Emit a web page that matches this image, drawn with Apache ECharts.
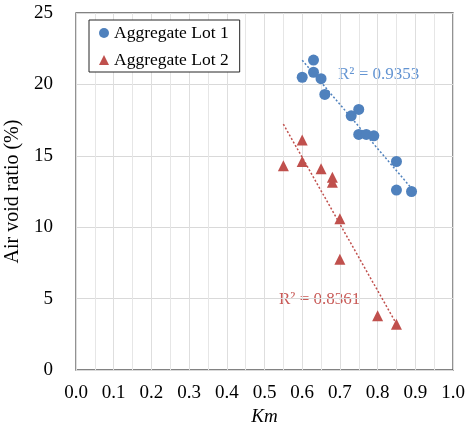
<!DOCTYPE html>
<html>
<head>
<meta charset="utf-8">
<script src="https://cdn.jsdelivr.net/npm/echarts@6/dist/echarts.min.js"></script>
<style>
  html, body { margin: 0; padding: 0; background: #fff; }
  #chart { width: 471px; height: 426px; }
</style>
</head>
<body>
<div id="chart"></div>
<script>
// values
const lot1Km = [0.60, 0.63, 0.63, 0.65, 0.66, 0.73, 0.75, 0.75, 0.77, 0.79, 0.85, 0.85, 0.89]
const lot1Void = [20.5, 21.7, 20.85, 20.4, 19.3, 17.8, 18.25, 16.5, 16.5, 16.4, 14.6, 12.6, 12.5]
const lot2Km = [0.55, 0.60, 0.60, 0.65, 0.68, 0.68, 0.70, 0.70, 0.80, 0.85]
const lot2Void = [14.3, 16.1, 14.6, 14.1, 13.5, 13.15, 10.6, 7.75, 3.8, 3.2]
const r2Labels = ['R² = 0.9353', 'R² = 0.8361']

const blue = '#4F81BD'
const red = '#C0504D'
const font = '"Liberation Serif", "Times New Roman", serif'

function pairs(xs, ys) {
  return xs.map((x, i) => [x, ys[i]])
}

// least squares line, drawn over the data's x range (like an Excel trendline)
function trend(xs, ys) {
  const n = xs.length
  const mx = xs.reduce((a, b) => a + b, 0) / n
  const my = ys.reduce((a, b) => a + b, 0) / n
  let sxy = 0, sxx = 0
  xs.forEach((x, i) => { sxy += (x - mx) * (ys[i] - my); sxx += (x - mx) * (x - mx) })
  const k = sxy / sxx
  const b = my - k * mx
  const x0 = Math.min(...xs), x1 = Math.max(...xs)
  return [[x0, k * x0 + b], [x1, k * x1 + b]]
}

const chart = echarts.init(document.getElementById('chart'))
chart.setOption({
  animation: false,
  textStyle: { fontFamily: font },
  grid: {
    left: 76, right: 18, top: 13, bottom: 56,
    outerBoundsMode: 'none',
    containLabel: false,
    show: true, borderColor: '#595959', borderWidth: 1.3
  },
  legend: {
    orient: 'vertical',
    left: 89,
    top: 20,
    padding: [4, 11, 3, 10],
    itemGap: 9,
    itemWidth: 10,
    itemHeight: 10,
    borderColor: '#262626',
    borderWidth: 1,
    backgroundColor: '#fff',
    textStyle: { fontFamily: font, fontSize: 17.5, lineHeight: 18, color: '#000' },
    data: [
      { name: 'Aggregate Lot 1', icon: 'circle' },
      { name: 'Aggregate Lot 2', icon: 'triangle' }
    ]
  },
  xAxis: {
    type: 'value',
    min: 0,
    max: 1,
    interval: 0.1,
    name: 'Km',
    nameLocation: 'middle',
    nameGap: 35,
    nameTextStyle: { fontFamily: font, fontSize: 19, fontStyle: 'italic', color: '#000' },
    axisLine: { show: false },
    axisTick: { show: false },
    axisLabel: { fontFamily: font, fontSize: 19, color: '#000', margin: 14, formatter: v => v.toFixed(1) },
    splitLine: { show: true, lineStyle: { color: '#DEDEDE', width: 1 } },
    minorTick: { show: false, splitNumber: 2 },
    minorSplitLine: { show: true, lineStyle: { color: '#E6E6E6', width: 1 } }
  },
  yAxis: {
    type: 'value',
    min: 0,
    max: 25,
    interval: 5,
    name: 'Air void ratio (%)',
    nameLocation: 'middle',
    nameGap: 41,
    nameTextStyle: { fontFamily: font, fontSize: 20, color: '#000' },
    axisLine: { show: false },
    axisTick: { show: false },
    axisLabel: { fontFamily: font, fontSize: 19, color: '#000', margin: 23 },
    splitLine: { show: true, lineStyle: { color: '#D9D9D9', width: 1 } }
  },
  series: [
    {
      name: 'trend1',
      type: 'line',
      data: trend(lot1Km, lot1Void),
      symbol: 'none',
      silent: true,
      lineStyle: { color: blue, width: 1.5, type: [2, 2] },
      z: 1
    },
    {
      name: 'trend2',
      type: 'line',
      data: trend(lot2Km, lot2Void),
      symbol: 'none',
      silent: true,
      lineStyle: { color: red, width: 1.5, type: [2, 2] },
      z: 1
    },
    {
      name: 'Aggregate Lot 1',
      type: 'scatter',
      data: pairs(lot1Km, lot1Void),
      symbol: 'circle',
      symbolSize: 11,
      itemStyle: { color: blue, opacity: 1 },
      z: 3
    },
    {
      name: 'Aggregate Lot 2',
      type: 'scatter',
      data: pairs(lot2Km, lot2Void),
      symbol: 'triangle',
      symbolSize: 11,
      itemStyle: { color: red, opacity: 1 },
      z: 3
    }
  ],
  graphic: [
    {
      type: 'text',
      x: 338,
      y: 75,
      style: { text: r2Labels[0], fill: '#6394D2', font: '17px ' + font, verticalAlign: 'middle' }
    },
    {
      type: 'text',
      x: 279,
      y: 300,
      style: { text: r2Labels[1], fill: '#C85A57', font: '17px ' + font, verticalAlign: 'middle' }
    }
  ]
})
</script>
</body>
</html>
